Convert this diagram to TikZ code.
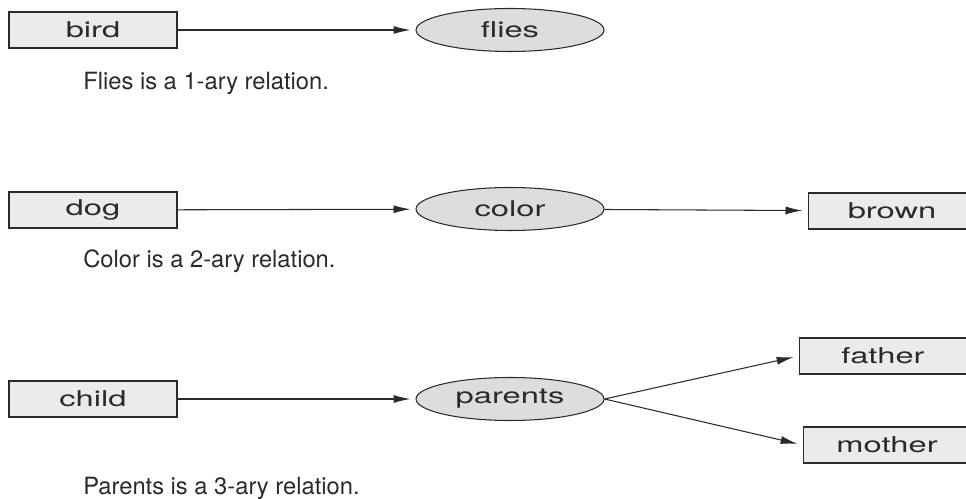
\documentclass[tikz,border=0pt]{standalone}
\usepackage{fontspec}
\setmainfont{TeX Gyre Heros}
\newfontfamily\boxfont[FakeStretch=1.5]{TeX Gyre Heros}
\usetikzlibrary{shapes.geometric,arrows.meta}
\definecolor{linegray}{HTML}{2A2A2A}
\definecolor{boxfill}{HTML}{EBEBEB}
\definecolor{ovalfill}{HTML}{DDDDDD}

\begin{document}
\begin{tikzpicture}[x=0.02cm, y=-0.02cm,
    thing/.style={draw=linegray, fill=boxfill, line width=0.6pt, minimum width=3.36cm, minimum height=0.72cm, inner sep=0pt, font=\boxfont\fontsize{12.4}{14}\selectfont, text=linegray},
    rel/.style={draw=linegray, fill=ovalfill, ellipse, line width=0.6pt, minimum width=3.76cm, minimum height=0.86cm, inner sep=0pt, font=\boxfont\fontsize{12.4}{14}\selectfont, text=linegray},
    note/.style={anchor=west, inner sep=0pt, font=\fontsize{13.5}{16}\selectfont, text=linegray},
    link/.style={draw=linegray, line width=0.6pt, -{Latex[length=3.4mm, width=1.6mm]}, shorten >=0.1cm}]
        \useasboundingbox (0,0) rectangle (966,499);

        % 1-ary
        \node[thing] (bird) at (93,30) {bird};
        \node[rel] (flies) at (510,30) {flies};
        \node[note] (note1) at (83,83) {Flies is a 1-ary relation.};

        \path (bird) edge[link] (flies);

        % 2-ary
        \node[thing] (dog) at (93,210) {dog};
        \node[rel] (color) at (510,209) {color};
        \node[thing] (brown) at (892,211) {brown};
        \node[note] (note2) at (83,261) {Color is a 2-ary relation.};

        \path (dog) edge[link] (color);
        \path (color) edge[link] (brown);

        % 3-ary
        \node[thing] (child) at (93,399) {child};
        \node[rel] (parents) at (510,399) {parents};
        \node[thing] (father) at (883,356) {father};
        \node[thing] (mother) at (887,445) {mother};
        \node[note] (note3) at (83,488) {Parents is a 3-ary relation.};

        \path (child) edge[link] (parents);
        \path (parents.east) edge[link] (father.west);
        \path (parents.east) edge[link] (mother.west);
      \end{tikzpicture}
\end{document}
